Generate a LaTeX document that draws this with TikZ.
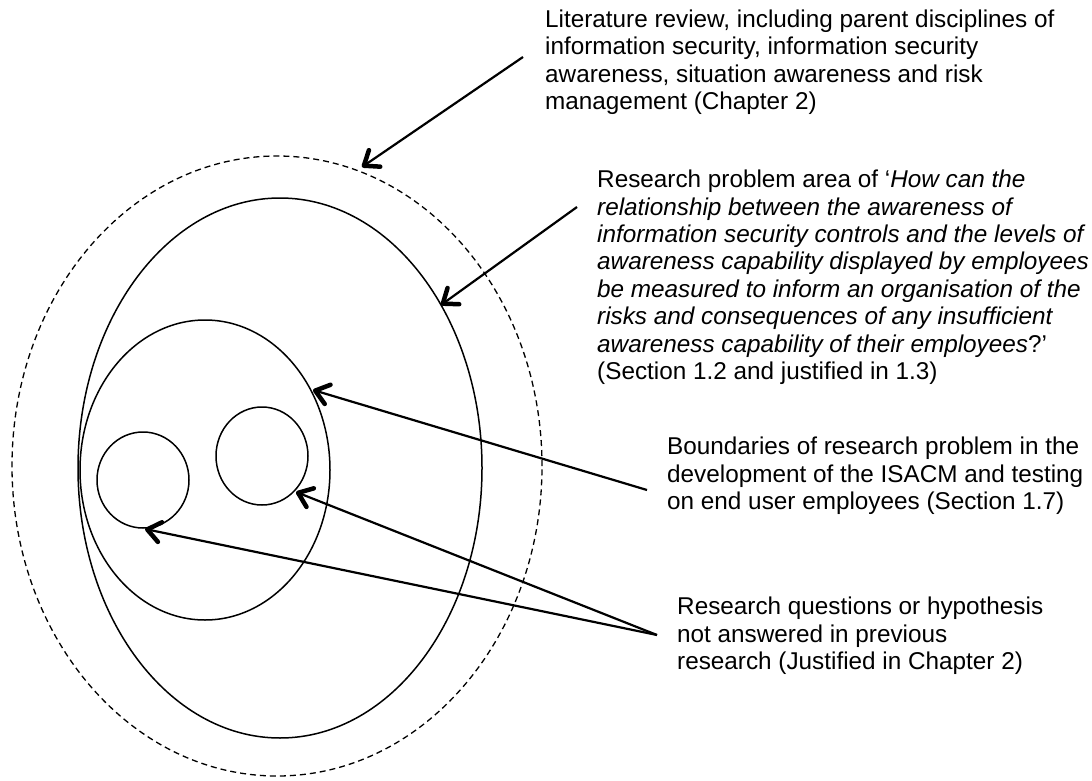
\documentclass[tikz,border=0pt]{standalone}
\usepackage{fontspec}
\setmainfont{Liberation Sans}
\usetikzlibrary{arrows.meta,shapes.geometric}
\tikzset{
  ring/.style={draw=black, shape=ellipse, inner sep=0pt, line width=1.5pt},
  outerring/.style={ring, line width=1.3pt, dash pattern=on 6pt off 4pt},
  pointer/.style={line width=2.2pt, -{Straight Barb[round,length=13pt,width=20pt,line width=4.5pt]}},
  label/.style={anchor=base west, inner sep=0pt, align=left,
    font=\fontsize{24.3pt}{27.4pt}\selectfont}
}
\begin{document}
\begin{tikzpicture}[x=1pt,y=-1pt]
\useasboundingbox (0,0) rectangle (1092,781);
% ellipses
\node[outerring, minimum width=530pt, minimum height=620pt] (lit) at (277,466) {};
\node[ring, minimum width=404pt, minimum height=540pt] (area) at (280,468) {};
\node[ring, minimum width=250pt, minimum height=300pt] (bound) at (205,470) {};
\node[ring, minimum width=92pt, minimum height=96pt] (qa) at (143,480) {};
\node[ring, minimum width=92pt, minimum height=98pt] (qb) at (262,456) {};
% texts (anchored at the baseline of their last line)
\node[label] (tlit) at (545,109.5) {Literature review, including parent disciplines of\\information security, information security\\awareness, situation awareness and risk\\management (Chapter 2)};
\node[label] (tarea) at (597,379.5) {Research problem area of ‘\textit{How can the}\\\textit{relationship between the awareness of}\\\textit{information security controls and the levels of}\\\textit{awareness capability displayed by employees}\\\textit{be measured to inform an organisation of the}\\\textit{risks and consequences of any insufficient}\\\textit{awareness capability of their employees}?’\\(Section 1.2 and justified in 1.3)};
\node[label] (tbound) at (667,509.5) {Boundaries of research problem in the\\development of the ISACM and testing\\on end user employees (Section 1.7)};
\node[label] (tq) at (677,669.5) {Research questions or hypothesis\\not answered in previous\\research (Justified in Chapter 2)};
% connector ends
\coordinate (s1) at (523,57);
\coordinate (e1) at (362,167);
\coordinate (s2) at (577,207);
\coordinate (e2) at (441,305);
\coordinate (s3) at (647,490);
\coordinate (e3) at (313,390);
\coordinate (s4) at (657,635);
\coordinate (e4) at (296,492);
\coordinate (e5) at (145,529);
\draw[pointer] (s1) -- (e1);
\draw[pointer] (s2) -- (e2);
\draw[pointer] (s3) -- (e3);
\draw[pointer] (s4) -- (e4);
\draw[pointer] (s4) -- (e5);
\end{tikzpicture}
\end{document}
